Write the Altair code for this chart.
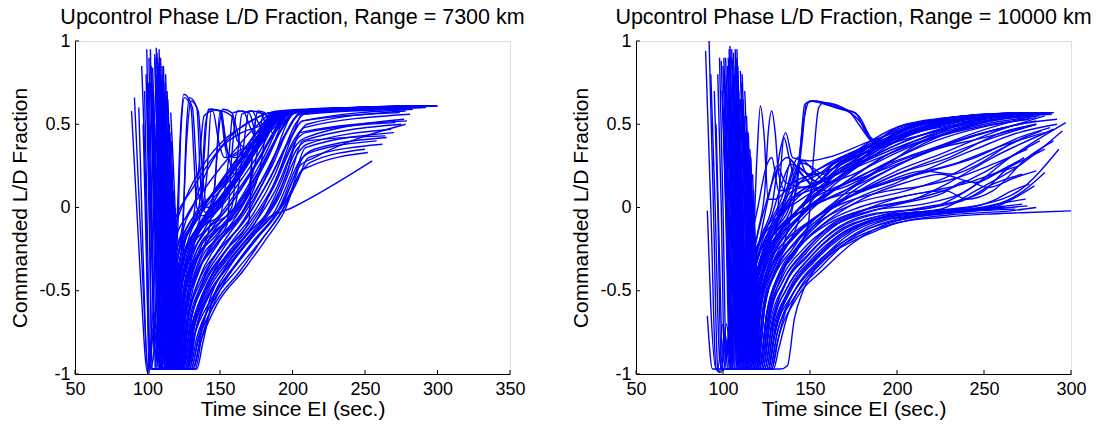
import altair as alt
import pandas as pd

# ---------------- text ----------------
TITLE_LEFT = "Upcontrol Phase L/D Fraction, Range = 7300 km"
TITLE_RIGHT = "Upcontrol Phase L/D Fraction, Range = 10000 km"
X_TITLE = "Time since EI (sec.)"
Y_TITLE = "Commanded L/D Fraction"

# ---------------- ticks ----------------
X_TICKS_LEFT = [50, 100, 150, 200, 250, 300, 350]
X_TICKS_RIGHT = [50, 100, 150, 200, 250, 300]
Y_TICKS = [-1, -0.5, 0, 0.5, 1]

# ---------------- trajectories, Range = 7300 km (time s, L/D fraction) ----------------
RUNS_7300 = [
    [(89, 0.58), (95, -0.4), (100, -0.99), (104, -0.72), (109, -0.97), (113, -0.97), (117, -0.55), (122, -0.25), (130, -0.08), (150, 0.12), (175, 0.4), (190, 0.56), (200, 0.58), (245, 0.6)],
    [(91, 0.66), (96, -0.3), (101, -1.0), (104, -0.62), (110, -0.96), (114, -0.96), (117, -0.5), (120, -0.15), (123, 0.5), (125, 0.68), (131, 0.6), (134, 0.2), (137, 0.0), (139, 0.3), (142, 0.59), (150, 0.58), (154, 0.35), (160, 0.3), (175, 0.4), (190, 0.56), (197, 0.58), (280, 0.61)],
    [(96, 0.85), (99, 0.0), (101, -0.98), (103, -0.78), (108, -0.96), (112, -0.96), (116, -0.6), (121, -0.3), (128, -0.15), (140, 0.0), (160, 0.2), (185, 0.52), (195, 0.57), (270, 0.6)],
    [(99.5, 0.95), (101.5, 0.0), (103, -0.97), (106, -0.97), (110, -0.7), (114, -0.96), (118, -0.96), (122, -0.55), (130, -0.25), (145, -0.05), (165, 0.2), (190, 0.55), (200, 0.58), (300, 0.61)],
    [(102, 0.75), (105, 0.0), (108, -0.9), (111, -0.97), (115, -0.97), (119, -0.5), (124, -0.2), (127, 0.5), (129, 0.66), (134, 0.6), (137, 0.1), (140, -0.03), (150, 0.1), (175, 0.4), (192, 0.57), (285, 0.61)],
    [(103.5, 0.84), (107, 0.0), (110, -0.85), (113, -0.97), (117, -0.97), (121, -0.55), (127, -0.25), (135, -0.1), (141, 0.2), (144, 0.59), (151, 0.58), (155, 0.3), (162, 0.32), (180, 0.45), (195, 0.57), (295, 0.61)],
    [(105, 0.92), (108, 0.1), (112, -0.9), (115, -0.97), (119, -0.97), (123, -0.6), (130, -0.32), (140, -0.12), (155, 0.05), (175, 0.3), (193, 0.56), (200, 0.58), (260, 0.6)],
    [(106, 0.96), (109, 0.2), (113, -0.85), (116, -0.97), (120, -0.97), (124, -0.62), (132, -0.35), (142, -0.15), (147, 0.2), (150, 0.58), (158, 0.55), (162, 0.4), (170, 0.35), (185, 0.5), (196, 0.57), (275, 0.6)],
    [(107, 0.9), (110, 0.1), (114, -0.9), (117, -0.97), (121, -0.97), (125, -0.65), (133, -0.38), (145, -0.15), (160, 0.0), (180, 0.3), (195, 0.55), (202, 0.58), (290, 0.61)],
    [(108, 0.87), (111, 0.2), (115, -0.8), (118, -0.97), (122, -0.97), (126, -0.65), (134, -0.4), (147, -0.2), (155, -0.1), (158, 0.3), (162, 0.58), (170, 0.57), (175, 0.45), (185, 0.5), (197, 0.57), (265, 0.6)],
    [(109, 0.8), (112, 0.0), (116, -0.88), (119, -0.97), (123, -0.97), (127, -0.7), (136, -0.42), (150, -0.2), (165, 0.0), (183, 0.3), (197, 0.56), (204, 0.58), (280, 0.6)],
    [(110.5, 0.78), (113, 0.1), (117, -0.85), (120, -0.97), (124, -0.97), (128, -0.72), (138, -0.45), (152, -0.25), (168, -0.05), (185, 0.25), (200, 0.56), (206, 0.58), (298, 0.61)],
    [(112, 0.65), (115, 0.0), (118, -0.9), (121, -0.97), (125, -0.97), (129, -0.72), (140, -0.45), (155, -0.25), (170, -0.08), (172, 0.3), (176, 0.57), (183, 0.55), (188, 0.5), (195, 0.56), (202, 0.58), (285, 0.61)],
    [(114, 0.6), (117, 0.0), (120, -0.9), (123, -0.97), (127, -0.97), (131, -0.75), (142, -0.48), (158, -0.28), (175, -0.08), (190, 0.2), (203, 0.5), (207, 0.57), (292, 0.6)],
    [(116, 0.57), (119, 0.0), (122, -0.9), (125, -0.97), (129, -0.97), (133, -0.75), (144, -0.5), (160, -0.3), (178, -0.1), (192, 0.15), (205, 0.45), (210, 0.5), (278, 0.58)],
    [(104, 0.7), (107, -0.2), (111, -0.97), (115, -0.97), (119, -0.45), (125, -0.12), (131, 0.0), (140, 0.2), (150, 0.35), (165, 0.45), (180, 0.5), (188, 0.55), (196, 0.58), (255, 0.6)],
    [(100, 0.6), (103, -0.3), (106, -0.97), (110, -0.97), (114, -0.6), (119, -0.3), (127, -0.12), (140, 0.02), (155, 0.2), (175, 0.45), (188, 0.57), (240, 0.6)],
    [(107.5, 0.85), (110, 0.0), (114, -0.97), (118, -0.97), (122, -0.45), (126, -0.2), (131, -0.1), (135, 0.2), (139, 0.55), (145, 0.58), (149, 0.4), (153, 0.3), (165, 0.35), (180, 0.45), (193, 0.57), (270, 0.6)],
    [(111, 0.7), (114, -0.1), (117, -0.97), (121, -0.97), (125, -0.6), (130, -0.3), (138, -0.1), (150, 0.0), (163, 0.2), (180, 0.42), (195, 0.57), (250, 0.59)],
    [(110, 0.5), (113, -0.2), (117, -0.97), (124, -0.97), (129, -0.75), (140, -0.5), (155, -0.3), (170, -0.15), (185, 0.0), (196, 0.2), (205, 0.45), (279, 0.52)],
    [(112, 0.45), (115, -0.3), (119, -0.97), (126, -0.97), (131, -0.75), (142, -0.52), (158, -0.33), (173, -0.17), (188, -0.02), (199, 0.2), (207, 0.4), (275, 0.5)],
    [(113, 0.4), (116, -0.4), (120, -0.97), (127, -0.97), (132, -0.78), (144, -0.55), (160, -0.35), (176, -0.18), (190, -0.03), (201, 0.18), (209, 0.36), (270, 0.45)],
    [(115, 0.35), (118, -0.4), (122, -0.97), (129, -0.97), (134, -0.78), (146, -0.55), (162, -0.37), (178, -0.2), (192, -0.03), (203, 0.15), (211, 0.3), (262, 0.38)],
    [(114, 0.3), (117, -0.5), (121, -0.97), (130, -0.97), (135, -0.8), (147, -0.57), (164, -0.38), (180, -0.18), (193, -0.02), (205, 0.2), (212, 0.27), (250, 0.35)],
    [(116, 0.2), (119, -0.5), (123, -0.97), (131, -0.97), (136, -0.82), (148, -0.58), (166, -0.38), (181, -0.2), (194, -0.03), (206, 0.22), (213, 0.25), (252, 0.33)],
    [(118, 0.1), (121, -0.6), (125, -0.97), (134, -0.97), (138, -0.82), (145, -0.55), (155, -0.38), (170, -0.2), (185, -0.06), (200, 0.0), (255, 0.28)],
    [(117, 0.15), (120, -0.6), (124, -0.97), (132, -0.97), (136, -0.8), (143, -0.55), (153, -0.37), (168, -0.2), (182, -0.07), (192, 0.0), (205, 0.25), (215, 0.3), (278, 0.5)],
    [(106, 0.5), (110, -0.6), (113, -0.97), (118, -0.97), (122, -0.5), (128, -0.2), (136, -0.05), (146, 0.1), (160, 0.25), (178, 0.45), (190, 0.57), (230, 0.59)],
    [(108, 0.55), (112, -0.6), (115, -0.97), (120, -0.97), (124, -0.55), (131, -0.25), (141, -0.08), (155, 0.08), (172, 0.3), (190, 0.55), (199, 0.58), (295, 0.61)],
    [(109, 0.6), (113, -0.6), (116, -0.97), (122, -0.97), (126, -0.6), (134, -0.3), (145, -0.12), (160, 0.05), (178, 0.3), (194, 0.55), (201, 0.58), (300, 0.61)],
    [(110, 0.65), (114, -0.6), (118, -0.97), (124, -0.97), (128, -0.65), (137, -0.35), (150, -0.15), (165, 0.02), (182, 0.28), (198, 0.55), (204, 0.58), (287, 0.61)],
    [(111, 0.55), (115, -0.6), (119, -0.97), (125, -0.97), (130, -0.68), (140, -0.4), (153, -0.2), (168, -0.02), (186, 0.25), (200, 0.52), (206, 0.57), (282, 0.6)],
    [(112, 0.5), (116, -0.6), (120, -0.97), (127, -0.97), (132, -0.7), (143, -0.43), (157, -0.22), (172, -0.05), (188, 0.2), (202, 0.5), (208, 0.56), (276, 0.59)],
    [(103, 0.8), (106, -0.3), (109, -0.97), (113, -0.97), (117, -0.5), (121, -0.22), (124, -0.12), (127, 0.4), (130, 0.64), (135, 0.58), (138, 0.2), (141, 0.0), (155, 0.12), (175, 0.38), (191, 0.56), (260, 0.6)],
    [(105, 0.9), (108, 0.0), (111, -0.97), (116, -0.97), (120, -0.45), (126, -0.18), (133, -0.08), (137, 0.1), (140, 0.5), (143, 0.59), (150, 0.58), (156, 0.3), (160, 0.2), (170, 0.3), (185, 0.5), (195, 0.57), (265, 0.6)],
    [(106.5, 0.93), (109, 0.0), (112, -0.97), (117, -0.97), (121, -0.5), (128, -0.22), (140, -0.1), (150, -0.05), (156, 0.3), (159, 0.57), (166, 0.58), (170, 0.5), (175, 0.42), (185, 0.5), (194, 0.57), (248, 0.59)],
    [(108.5, 0.75), (111, 0.0), (115, -0.97), (119, -0.97), (123, -0.55), (130, -0.25), (142, -0.12), (160, 0.0), (166, 0.35), (170, 0.58), (178, 0.57), (183, 0.48), (190, 0.52), (198, 0.57), (293, 0.61)],
    [(110, 0.72), (113, 0.0), (117, -0.97), (121, -0.97), (125, -0.6), (132, -0.3), (145, -0.15), (163, -0.02), (175, 0.3), (180, 0.56), (186, 0.57), (190, 0.5), (197, 0.56), (203, 0.58), (272, 0.6)],
    [(101, 0.9), (103, 0.0), (106, -0.97), (109, -0.97), (113, -0.4), (118, -0.15), (126, 0.05), (138, 0.25), (152, 0.4), (168, 0.5), (185, 0.57), (220, 0.59)],
    [(104, 0.6), (107, -0.4), (110, -0.97), (114, -0.97), (118, -0.6), (124, -0.32), (133, -0.15), (148, 0.0), (165, 0.2), (185, 0.47), (196, 0.57), (285, 0.61)],
    [(105.5, 0.75), (108.5, -0.2), (112, -0.97), (116, -0.97), (120, -0.62), (127, -0.35), (137, -0.18), (152, -0.02), (170, 0.2), (188, 0.45), (199, 0.57), (262, 0.6)],
    [(107, 0.7), (110, -0.2), (113, -0.97), (118, -0.97), (122, -0.65), (129, -0.4), (140, -0.22), (156, -0.06), (174, 0.18), (191, 0.45), (201, 0.57), (297, 0.61)],
    [(109.5, 0.7), (112, -0.2), (116, -0.97), (121, -0.97), (125, -0.68), (133, -0.42), (145, -0.25), (162, -0.08), (180, 0.18), (196, 0.45), (205, 0.57), (268, 0.6)],
    [(111.5, 0.62), (114, -0.2), (118, -0.97), (123, -0.97), (127, -0.7), (135, -0.45), (148, -0.27), (165, -0.1), (183, 0.15), (199, 0.42), (207, 0.52), (283, 0.59)],
    [(113, 0.55), (116, -0.3), (120, -0.97), (125, -0.97), (129, -0.72), (138, -0.47), (151, -0.29), (168, -0.12), (186, 0.12), (202, 0.42), (208, 0.48), (281, 0.56)],
    [(114.5, 0.5), (117, -0.3), (121, -0.97), (126, -0.97), (130, -0.74), (139, -0.5), (153, -0.31), (170, -0.14), (188, 0.1), (203, 0.38), (209, 0.42), (277, 0.53)],
    [(115.5, 0.45), (118, -0.35), (122, -0.97), (128, -0.97), (133, -0.75), (143, -0.52), (158, -0.33), (174, -0.15), (190, 0.05), (204, 0.33), (210, 0.38), (268, 0.47)],
    [(116.5, 0.4), (119, -0.4), (123, -0.97), (130, -0.97), (135, -0.78), (145, -0.55), (160, -0.36), (177, -0.17), (191, 0.0), (205, 0.28), (212, 0.33), (258, 0.4)],
    [(102.5, 0.85), (105, -0.1), (108, -0.97), (112, -0.97), (116, -0.55), (121, -0.28), (129, -0.12), (142, 0.05), (158, 0.25), (176, 0.45), (189, 0.57), (275, 0.61)],
    [(98, 0.7), (100, -0.2), (102, -0.97), (105, -0.97), (108, -0.6), (111, -0.9), (115, -0.97), (119, -0.6), (125, -0.3), (134, -0.12), (150, 0.05), (170, 0.3), (187, 0.55), (197, 0.58), (290, 0.61)],
    [(97, 0.5), (99.5, -0.4), (102, -0.97), (104, -0.9), (106, -0.75), (109, -0.95), (113, -0.97), (117, -0.62), (123, -0.35), (132, -0.18), (146, -0.02), (165, 0.22), (185, 0.5), (196, 0.58), (255, 0.6)],
    [(104.5, 0.55), (107.5, -0.4), (111, -0.97), (115, -0.97), (119, -0.4), (121, -0.1), (123, 0.45), (125.5, 0.66), (130, 0.6), (132, 0.3), (134, 0.0), (138, -0.05), (150, 0.1), (170, 0.35), (189, 0.56), (250, 0.6)],
    [(109, 0.9), (111.5, 0.0), (115, -0.97), (119, -0.97), (123, -0.5), (130, -0.2), (140, -0.05), (146, 0.1), (149, 0.45), (152, 0.59), (158, 0.57), (162, 0.45), (166, 0.3), (175, 0.35), (188, 0.5), (197, 0.57), (280, 0.6)],
    [(111, 0.85), (113.5, 0.0), (117, -0.97), (121, -0.97), (125, -0.55), (133, -0.28), (146, -0.12), (158, 0.0), (162, 0.3), (165, 0.56), (172, 0.58), (177, 0.5), (182, 0.45), (190, 0.5), (199, 0.57), (288, 0.61)],
    [(100.5, 0.75), (102.5, 0.0), (105, -0.97), (108, -0.97), (111, -0.5), (115, -0.2), (120, -0.05), (130, 0.1), (145, 0.3), (160, 0.45), (178, 0.55), (190, 0.58), (235, 0.6)],
    [(113.5, 0.7), (116, 0.0), (119, -0.97), (124, -0.97), (128, -0.6), (136, -0.33), (150, -0.17), (167, 0.0), (178, 0.25), (184, 0.55), (190, 0.57), (194, 0.52), (200, 0.56), (206, 0.58), (299, 0.61)],
    [(112.5, 0.8), (115, 0.0), (118, -0.97), (123, -0.97), (127, -0.6), (134, -0.32), (147, -0.17), (163, 0.0), (170, 0.1), (173, 0.4), (176, 0.58), (181, 0.57), (186, 0.45), (193, 0.5), (200, 0.57), (273, 0.6)],
    [(94, 0.6), (97, -0.3), (100, -0.97), (102, -0.9), (105, -0.7), (108, -0.9), (111, -0.97), (115, -0.97), (119, -0.5), (126, -0.2), (136, -0.02), (155, 0.18), (178, 0.45), (191, 0.57), (258, 0.6)],
    [(119, 0.0), (122, -0.7), (125, -0.97), (133, -0.97), (137, -0.8), (146, -0.57), (158, -0.38), (173, -0.2), (188, -0.05), (199, 0.1), (207, 0.3), (215, 0.35), (265, 0.42)],
    [(103, 0.6), (106, -0.3), (109.5, -0.97), (114, -0.97), (118, -0.58), (124, -0.3), (133, -0.14), (146, 0.0), (162, 0.18), (180, 0.4), (193, 0.56), (240, 0.59)],
    [(106, 0.8), (109, -0.1), (112.5, -0.97), (117, -0.97), (121, -0.6), (128, -0.33), (138, -0.17), (154, -0.02), (172, 0.22), (189, 0.48), (198, 0.57), (278, 0.6)],
    [(108, 0.95), (110.5, 0.0), (114, -0.97), (119, -0.97), (123, -0.62), (130, -0.37), (142, -0.2), (158, -0.05), (176, 0.2), (192, 0.46), (202, 0.57), (266, 0.6)],
    [(110, 0.85), (112.5, 0.0), (116, -0.97), (122, -0.97), (126, -0.66), (134, -0.4), (147, -0.22), (164, -0.05), (181, 0.2), (197, 0.47), (205, 0.56), (289, 0.6)],
    [(112, 0.75), (114.5, 0.0), (118, -0.97), (124, -0.97), (128, -0.68), (137, -0.44), (150, -0.25), (167, -0.08), (184, 0.17), (200, 0.44), (207, 0.52), (274, 0.57)],
    [(114, 0.65), (116.5, 0.0), (120, -0.97), (126, -0.97), (131, -0.72), (140, -0.48), (154, -0.29), (170, -0.12), (187, 0.12), (202, 0.4), (209, 0.45), (271, 0.51)],
    [(107, 0.6), (110, -0.4), (113, -0.97), (118, -0.97), (122, -0.55), (128, -0.28), (136, -0.12), (149, 0.03), (166, 0.22), (184, 0.48), (195, 0.57), (292, 0.61)],
    [(102, 0.95), (104, 0.0), (107, -0.97), (110, -0.97), (114, -0.45), (119, -0.2), (127, -0.05), (140, 0.12), (156, 0.3), (174, 0.48), (187, 0.57), (268, 0.6)],
    [(115, 0.5), (118, -0.3), (121.5, -0.97), (128, -0.97), (132, -0.74), (142, -0.5), (156, -0.32), (172, -0.15), (189, 0.05), (203, 0.35), (210, 0.4), (264, 0.43)],
    [(99, 0.8), (101, 0.0), (103.5, -0.97), (106, -0.97), (109, -0.5), (112, -0.85), (116, -0.97), (120, -0.55), (126, -0.28), (136, -0.1), (152, 0.08), (172, 0.33), (188, 0.56), (199, 0.58), (282, 0.61)],
]

# ---------------- trajectories, Range = 10000 km (time s, L/D fraction) ----------------
RUNS_10000 = [
    [(90, 0.94), (93, 0.0), (96, -0.97), (98, -0.99), (101, -0.75), (104, -0.97), (108, -0.97), (112, -0.6), (118, -0.3), (128, -0.1), (145, 0.05), (170, 0.2), (200, 0.42), (230, 0.52), (260, 0.56), (285, 0.57)],
    [(92, 1.0), (94.5, 0.0), (97, -0.97), (99, -0.99), (102, -0.7), (105, -0.97), (109, -0.97), (113, -0.55), (117, -0.3), (119.5, 0.3), (121.5, 0.61), (123.5, 0.45), (126, 0.05), (130, 0.05), (140, 0.15), (160, 0.22), (185, 0.35), (210, 0.5), (250, 0.56), (280, 0.57)],
    [(91, -0.02), (93, -0.6), (96, -0.97), (99, -0.97), (102, -0.8), (105, -0.97), (110, -0.97), (114, -0.6), (121, -0.35), (132, -0.12), (150, 0.0), (180, 0.15), (210, 0.3), (240, 0.42), (270, 0.5)],
    [(91, -0.65), (94, -0.97), (97, -0.97), (100, -0.7), (103, -0.97), (107, -0.97), (111, -0.55), (117, -0.3), (125, -0.12), (135, 0.1), (139, 0.28), (145, 0.2), (160, 0.1), (185, 0.2), (215, 0.4), (255, 0.55), (287, 0.57)],
    [(93, 0.8), (95.5, 0.0), (98, -0.9), (100, -0.98), (103, -0.8), (106, -0.97), (110, -0.97), (114, -0.5), (120, -0.15), (124, 0.1), (126, 0.45), (128, 0.58), (130, 0.45), (132, 0.2), (136, 0.1), (143, 0.25), (146, 0.5), (150, 0.64), (155, 0.63), (168, 0.59), (176, 0.57), (182, 0.45), (190, 0.38), (210, 0.47), (245, 0.55), (283, 0.57)],
    [(99, 0.88), (101.5, 0.0), (104, -0.97), (110, -0.97), (114, -0.6), (120, -0.3), (130, -0.15), (145, 0.0), (170, 0.2), (200, 0.45), (235, 0.54), (282, 0.57)],
    [(101, 0.8), (103.5, 0.0), (106, -0.97), (112, -0.97), (116, -0.6), (122, -0.35), (132, -0.18), (148, -0.02), (170, 0.1), (200, 0.3), (230, 0.45), (270, 0.55)],
    [(104, 0.97), (106.5, 0.0), (109, -0.97), (115, -0.97), (119, -0.55), (125, -0.3), (130, -0.2), (133, 0.2), (135, 0.42), (138, 0.3), (142, 0.15), (155, 0.2), (165, 0.28), (190, 0.38), (220, 0.48), (255, 0.55), (289, 0.57)],
    [(105, 0.9), (107.5, 0.0), (110, -0.97), (116, -0.97), (120, -0.6), (126, -0.35), (136, -0.2), (150, -0.08), (170, 0.05), (200, 0.2), (225, 0.3), (250, 0.4), (280, 0.5)],
    [(106, 0.93), (108.5, 0.0), (111, -0.97), (117, -0.97), (121, -0.62), (127, -0.38), (135, -0.22), (140, 0.0), (144, 0.3), (147, 0.62), (152, 0.64), (170, 0.59), (178, 0.55), (185, 0.42), (192, 0.38), (215, 0.47), (250, 0.55), (286, 0.57)],
    [(108, 0.95), (110.5, 0.0), (113, -0.97), (119, -0.97), (123, -0.62), (130, -0.4), (140, -0.25), (150, -0.1), (160, 0.0), (180, 0.1), (200, 0.2), (230, 0.3), (260, 0.45), (280, 0.5)],
    [(110, 0.82), (112.5, 0.0), (115, -0.97), (121, -0.97), (125, -0.65), (132, -0.42), (143, -0.25), (149, -0.1), (152, 0.3), (155, 0.6), (158, 0.63), (172, 0.58), (180, 0.5), (187, 0.38), (195, 0.4), (225, 0.5), (265, 0.56), (290, 0.57)],
    [(105.5, 0.88), (108, 0.0), (110.5, -0.97), (116, -0.97), (120, -0.58), (126, -0.3), (134, -0.12), (142, 0.1), (145.5, 0.4), (148, 0.63), (152, 0.64), (165, 0.6), (173, 0.57), (178, 0.5), (185, 0.4), (190, 0.36), (210, 0.45), (250, 0.55), (280, 0.57)],
    [(102, 0.75), (104.5, 0.0), (107, -0.97), (113, -0.97), (117, -0.55), (123, -0.28), (135, -0.1), (150, 0.05), (175, 0.25), (205, 0.48), (240, 0.55), (275, 0.57)],
    [(107, 0.85), (109.5, 0.0), (112, -0.97), (118, -0.97), (122, -0.55), (128, -0.3), (137, -0.15), (148, 0.0), (165, 0.2), (180, 0.3), (200, 0.44), (230, 0.53), (270, 0.57)],
    [(103, 0.9), (105.5, 0.0), (108, -0.97), (114, -0.97), (118, -0.5), (124, -0.25), (130, -0.1), (137, 0.1), (142, 0.25), (150, 0.2), (160, 0.22), (175, 0.3), (200, 0.47), (240, 0.55), (278, 0.57)],
    [(109, 0.7), (111.5, 0.0), (114, -0.97), (120, -0.97), (124, -0.6), (131, -0.35), (141, -0.15), (148, 0.05), (155, 0.15), (165, 0.25), (175, 0.3), (200, 0.42), (235, 0.5), (262, 0.55)],
    [(100, 0.6), (102.5, -0.3), (105, -0.97), (111, -0.97), (115, -0.5), (121, -0.2), (128, 0.0), (133, 0.35), (136, 0.45), (140, 0.3), (150, 0.28), (160, 0.3), (185, 0.4), (215, 0.5), (260, 0.56), (284, 0.57)],
    [(111, 0.6), (113.5, 0.0), (116, -0.97), (122, -0.97), (126, -0.68), (134, -0.45), (146, -0.28), (160, -0.12), (180, -0.02), (210, 0.05), (230, 0.15), (255, 0.3), (290, 0.47)],
    [(112, 0.5), (114.5, -0.2), (117, -0.97), (123, -0.97), (127, -0.7), (135, -0.47), (148, -0.3), (162, -0.15), (185, -0.04), (220, 0.0), (240, 0.1), (265, 0.3), (297, 0.51)],
    [(113, 0.45), (115.5, -0.2), (118, -0.97), (124, -0.97), (128, -0.72), (137, -0.48), (150, -0.3), (165, -0.16), (190, -0.05), (225, -0.01), (245, 0.1), (270, 0.25), (295, 0.46)],
    [(110, 0.3), (112.5, -0.4), (115, -0.97), (121, -0.97), (125, -0.65), (133, -0.4), (145, -0.22), (160, -0.08), (180, 0.05), (205, 0.15), (225, 0.2), (245, 0.15), (260, 0.22), (285, 0.35)],
    [(114, 0.4), (116.5, -0.3), (119, -0.97), (125, -0.97), (129, -0.73), (138, -0.5), (152, -0.32), (168, -0.17), (195, -0.05), (230, -0.01), (250, 0.02), (270, 0.1), (293, 0.35)],
    [(115, 0.2), (117.5, -0.4), (120, -0.97), (126, -0.97), (130, -0.75), (140, -0.52), (154, -0.34), (170, -0.18), (198, -0.06), (235, -0.02), (255, 0.01), (270, 0.08), (285, 0.21)],
    [(116, 0.1), (118.5, -0.5), (121, -0.97), (127, -0.97), (131, -0.76), (141, -0.54), (156, -0.36), (172, -0.2), (200, -0.07), (240, -0.02), (258, 0.01), (268, 0.06), (279, 0.13)],
    [(117, 0.0), (119, -0.5), (122, -0.97), (128, -0.97), (132, -0.78), (142, -0.55), (158, -0.37), (175, -0.21), (200, -0.08), (245, -0.02), (275, 0.01)],
    [(113, 0.3), (115.5, -0.4), (118, -0.97), (124, -0.97), (128, -0.7), (136, -0.45), (148, -0.27), (163, -0.12), (185, 0.0), (210, 0.08), (228, 0.1), (240, 0.05), (255, 0.1), (275, 0.3), (290, 0.4)],
    [(112, 0.55), (114.5, 0.0), (117, -0.97), (123, -0.97), (127, -0.65), (134, -0.4), (145, -0.2), (158, -0.05), (175, 0.1), (200, 0.25), (220, 0.35), (245, 0.45), (278, 0.55)],
    [(118, -0.2), (121, -0.8), (124, -0.97), (129, -0.97), (133, -0.97), (137, -0.95), (141, -0.67), (146, -0.5), (153, -0.37), (163, -0.27), (175, -0.2), (188, -0.14), (201, -0.09), (225, -0.06), (251, -0.04), (275, -0.03), (300, -0.02)],
    [(115, 0.3), (117.5, -0.3), (120, -0.97), (126, -0.97), (129, -0.8), (134, -0.6), (143, -0.42), (155, -0.28), (168, -0.16), (180, -0.1), (200, -0.05), (230, -0.02), (262, 0.0)],
    [(104, 0.7), (106.5, 0.0), (109, -0.97), (114, -0.97), (118, -0.5), (123, -0.25), (130, -0.05), (140, 0.1), (155, 0.15), (165, 0.25), (185, 0.37), (200, 0.48), (225, 0.53), (250, 0.56), (288, 0.57)],
    [(106, 0.8), (108.5, 0.0), (111, -0.97), (116, -0.97), (120, -0.55), (127, -0.3), (136, -0.12), (148, 0.05), (165, 0.2), (190, 0.38), (210, 0.47), (240, 0.53), (275, 0.56)],
    [(108, 0.6), (110.5, -0.2), (113, -0.97), (118, -0.97), (122, -0.55), (129, -0.32), (139, -0.15), (152, 0.0), (170, 0.15), (195, 0.32), (220, 0.42), (250, 0.5), (282, 0.55)],
    [(109, 0.5), (111.5, -0.3), (114, -0.97), (119, -0.97), (123, -0.6), (130, -0.35), (141, -0.18), (155, -0.05), (172, 0.1), (195, 0.25), (222, 0.35), (250, 0.42), (280, 0.5)],
    [(107, 0.65), (109.5, -0.1), (112, -0.97), (117, -0.97), (121, -0.5), (127, -0.22), (134, 0.0), (139, 0.2), (143, 0.3), (148, 0.2), (156, 0.15), (162, 0.25), (175, 0.32), (195, 0.42), (215, 0.5), (245, 0.55), (280, 0.57)],
    [(100, 0.85), (102.5, 0.0), (105, -0.97), (110, -0.97), (114, -0.45), (119, -0.2), (124, 0.0), (130, 0.2), (137, 0.3), (144, 0.22), (155, 0.1), (163, 0.2), (180, 0.3), (205, 0.45), (235, 0.53), (270, 0.56)],
    [(95, 0.7), (97, 0.0), (99, -0.97), (101, -0.97), (104, -0.7), (107, -0.97), (111, -0.97), (115, -0.55), (121, -0.28), (130, -0.1), (145, 0.08), (165, 0.2), (190, 0.35), (215, 0.48), (250, 0.55), (287, 0.57)],
    [(97, 0.8), (99, 0.0), (101, -0.97), (104, -0.97), (107, -0.6), (110, -0.97), (114, -0.97), (118, -0.55), (124, -0.3), (133, -0.14), (148, 0.0), (170, 0.15), (195, 0.32), (225, 0.46), (260, 0.55), (284, 0.57)],
    [(102.5, 0.85), (105, 0.0), (107.5, -0.97), (113, -0.97), (117, -0.52), (123, -0.26), (131, -0.08), (142, 0.12), (158, 0.25), (178, 0.35), (200, 0.46), (230, 0.53), (265, 0.56), (290, 0.57)],
    [(104.5, 0.75), (107, 0.0), (109.5, -0.97), (115, -0.97), (119, -0.58), (125, -0.33), (134, -0.17), (146, -0.03), (163, 0.1), (185, 0.22), (210, 0.32), (240, 0.42), (270, 0.5), (292, 0.53)],
    [(106.5, 0.8), (109, 0.0), (111.5, -0.97), (117, -0.97), (121, -0.6), (128, -0.35), (138, -0.2), (152, -0.07), (170, 0.05), (195, 0.15), (220, 0.22), (245, 0.3), (270, 0.42), (288, 0.48)],
    [(108.5, 0.85), (111, 0.0), (113.5, -0.97), (119, -0.97), (123, -0.62), (130, -0.38), (141, -0.22), (156, -0.08), (175, 0.02), (205, 0.1), (228, 0.18), (250, 0.3), (275, 0.43)],
    [(110.5, 0.75), (113, 0.0), (115.5, -0.97), (121, -0.97), (125, -0.64), (132, -0.4), (144, -0.23), (160, -0.1), (182, -0.01), (210, 0.05), (232, 0.12), (248, 0.2), (268, 0.32), (282, 0.4)],
    [(111.5, 0.65), (114, 0.0), (116.5, -0.97), (122, -0.97), (126, -0.66), (134, -0.42), (146, -0.25), (162, -0.11), (185, -0.02), (215, 0.02), (236, 0.08), (252, 0.18), (270, 0.28)],
    [(113.5, 0.55), (116, -0.1), (118.5, -0.97), (124, -0.97), (128, -0.7), (136, -0.46), (149, -0.28), (164, -0.14), (188, -0.04), (220, 0.0), (240, 0.05), (255, 0.14), (272, 0.2)],
    [(101.5, 0.9), (104, 0.0), (106.5, -0.97), (112, -0.97), (116, -0.5), (122, -0.22), (128, -0.05), (134, 0.15), (139, 0.26), (146, 0.22), (155, 0.15), (162, 0.2), (172, 0.3), (185, 0.4), (205, 0.5), (240, 0.55), (285, 0.57)],
    [(103.5, 0.95), (106, 0.0), (108.5, -0.97), (114, -0.97), (118, -0.52), (124, -0.27), (132, -0.08), (138, 0.1), (144, 0.27), (150, 0.25), (158, 0.2), (168, 0.28), (182, 0.33), (200, 0.42), (225, 0.5), (260, 0.56), (288, 0.57)],
    [(99.5, 0.7), (102, 0.0), (104.5, -0.97), (108, -0.97), (111, -0.55), (116, -0.2), (120, 0.0), (125, 0.25), (128, 0.3), (132, 0.1), (140, 0.12), (150, 0.2), (165, 0.28), (190, 0.4), (220, 0.52), (260, 0.56), (283, 0.57)],
    [(114.5, 0.45), (117, -0.2), (119.5, -0.97), (125, -0.97), (129, -0.7), (137, -0.48), (150, -0.3), (165, -0.15), (190, -0.05), (215, 0.0), (235, 0.04), (250, 0.1), (262, 0.22), (273, 0.3)],
    [(116, 0.3), (118, -0.4), (120.5, -0.97), (126, -0.97), (130, -0.74), (139, -0.5), (152, -0.33), (168, -0.18), (193, -0.06), (228, -0.02), (248, 0.0), (262, 0.03), (274, 0.05)],
    [(117.5, 0.1), (119.5, -0.5), (122, -0.97), (129, -0.97), (132, -0.85), (137, -0.65), (145, -0.47), (155, -0.35), (168, -0.23), (185, -0.14), (205, -0.08), (235, -0.04), (265, -0.02), (280, 0.0)],
    [(116.5, 0.05), (119, -0.6), (121.5, -0.97), (128, -0.97), (131, -0.82), (136, -0.62), (144, -0.45), (154, -0.33), (167, -0.22), (183, -0.13), (203, -0.07), (233, -0.03), (268, -0.01)],
    [(109.5, 0.6), (112, -0.2), (114.5, -0.97), (120, -0.97), (124, -0.6), (131, -0.37), (142, -0.2), (156, -0.06), (175, 0.08), (200, 0.22), (225, 0.32), (255, 0.45), (285, 0.55)],
    [(107.5, 0.9), (110, 0.0), (112.5, -0.97), (118, -0.97), (122, -0.58), (128, -0.32), (137, -0.15), (150, 0.0), (162, 0.12), (178, 0.25), (200, 0.4), (230, 0.5), (265, 0.55), (288, 0.57)],
    [(96, 0.5), (98, -0.3), (100, -0.97), (103, -0.97), (106, -0.55), (109, -0.97), (113, -0.97), (117, -0.45), (122, -0.15), (127, 0.1), (131, 0.25), (136, 0.15), (148, 0.12), (170, 0.25), (200, 0.45), (240, 0.55), (286, 0.57)],
    [(105, 0.6), (107.5, -0.2), (110, -0.97), (115, -0.97), (119, -0.55), (126, -0.3), (135, -0.12), (147, 0.03), (162, 0.15), (185, 0.3), (210, 0.42), (240, 0.5), (270, 0.55)],
    [(98, 0.9), (100, 0.0), (102, -0.97), (105, -0.97), (108, -0.65), (111, -0.97), (115, -0.97), (119, -0.5), (125, -0.22), (133, -0.05), (145, 0.1), (160, 0.18), (180, 0.28), (205, 0.4), (235, 0.5), (265, 0.55), (283, 0.56)],
    [(100.5, 0.9), (103, 0.0), (105.5, -0.97), (111, -0.97), (115, -0.55), (121, -0.27), (129, -0.1), (140, 0.05), (155, 0.12), (175, 0.2), (200, 0.33), (225, 0.43), (255, 0.5), (280, 0.54)],
    [(103, 0.65), (105.5, -0.2), (108, -0.97), (113, -0.97), (117, -0.58), (123, -0.32), (132, -0.15), (145, -0.02), (160, 0.05), (185, 0.12), (210, 0.2), (235, 0.27), (260, 0.37), (285, 0.45)],
    [(105, 0.95), (107.5, 0.0), (110, -0.97), (115, -0.97), (119, -0.55), (125, -0.3), (133, -0.14), (144, 0.0), (160, 0.1), (180, 0.18), (205, 0.28), (230, 0.38), (258, 0.47), (280, 0.52)],
    [(106, 0.7), (108.5, -0.2), (111, -0.97), (117, -0.97), (121, -0.6), (128, -0.36), (138, -0.2), (152, -0.07), (170, 0.03), (195, 0.1), (215, 0.13), (235, 0.18), (255, 0.26), (275, 0.35)],
    [(108, 0.75), (110.5, 0.0), (113, -0.97), (118, -0.97), (122, -0.6), (129, -0.36), (139, -0.2), (153, -0.06), (172, 0.06), (195, 0.16), (215, 0.22), (232, 0.2), (245, 0.25), (265, 0.38), (283, 0.46)],
    [(110, 0.65), (112.5, -0.1), (115, -0.97), (121, -0.97), (125, -0.65), (132, -0.42), (143, -0.25), (158, -0.1), (178, 0.0), (200, 0.06), (220, 0.1), (238, 0.14), (255, 0.2), (270, 0.25)],
    [(111, 0.8), (113.5, 0.0), (116, -0.97), (122, -0.97), (126, -0.64), (133, -0.4), (144, -0.22), (158, -0.07), (176, 0.05), (200, 0.15), (222, 0.25), (245, 0.35), (270, 0.45), (292, 0.5)],
    [(112.5, 0.7), (115, 0.0), (117.5, -0.97), (123, -0.97), (127, -0.66), (135, -0.43), (147, -0.26), (162, -0.12), (183, -0.03), (205, 0.03), (225, 0.08), (240, 0.16), (252, 0.12), (268, 0.18), (280, 0.22)],
    [(101, 0.55), (103.5, -0.3), (106, -0.97), (111, -0.97), (115, -0.5), (121, -0.22), (130, -0.05), (142, 0.08), (158, 0.16), (180, 0.27), (205, 0.38), (232, 0.47), (262, 0.54), (289, 0.56)],
    [(103, 0.8), (105.5, 0.0), (108, -0.97), (113, -0.97), (117, -0.55), (123, -0.3), (131, -0.12), (138, 0.0), (142, 0.2), (146, 0.28), (152, 0.22), (160, 0.15), (172, 0.22), (190, 0.3), (215, 0.4), (245, 0.5), (275, 0.55)],
    [(104, 0.85), (106.5, 0.0), (109, -0.97), (114, -0.97), (118, -0.55), (124, -0.28), (132, -0.1), (140, 0.05), (152, 0.15), (165, 0.27), (175, 0.3), (195, 0.38), (220, 0.45), (250, 0.52), (278, 0.55)],
    [(115.5, 0.35), (118, -0.3), (120.5, -0.97), (126, -0.97), (130, -0.72), (138, -0.49), (151, -0.31), (166, -0.17), (190, -0.06), (220, -0.02), (242, 0.0), (255, 0.04), (266, 0.1), (276, 0.14)],
    [(117, 0.2), (119, -0.4), (121.5, -0.97), (127, -0.97), (131, -0.76), (140, -0.52), (154, -0.35), (170, -0.2), (196, -0.07), (230, -0.03), (255, 0.0), (272, 0.02)],
    [(107, 0.95), (109.5, 0.0), (112, -0.97), (117, -0.97), (121, -0.58), (127, -0.32), (136, -0.16), (147, -0.03), (160, 0.08), (178, 0.18), (200, 0.3), (222, 0.4), (248, 0.48), (276, 0.53)],
]

FONT = "Liberation Sans"
LINE_COLOR = "#0000ff"


def frame(runs):
    rows = []
    for i, run in enumerate(runs):
        for k, (t, v) in enumerate(run):
            rows.append({"run": i, "k": k, "t": t, "v": v})
    return pd.DataFrame(rows)


def panel(runs, title, xmax, xticks):
    xs = alt.Scale(domain=[50, xmax], nice=False, zero=False)
    ys = alt.Scale(domain=[-1, 1], nice=False, zero=False)
    xaxis = alt.Axis(
        values=xticks, ticks=False, labelPadding=6, labelFontSize=18, labelFont=FONT,
        labelColor="black", labelFlush=False, labelOverlap=False, domainColor="black",
        grid=False, title=X_TITLE, titleFont=FONT, titleFontSize=21, titleFontWeight="normal",
        titleColor="black", titlePadding=0, labelExpr="'' + datum.value",
    )
    yaxis = alt.Axis(
        values=Y_TICKS, ticks=False, labelPadding=5, labelFontSize=18, labelFont=FONT,
        labelColor="black", labelFlush=False, labelOverlap=False, domainColor="black",
        grid=False, title=Y_TITLE, titleFont=FONT, titleFontSize=21, titleFontWeight="normal",
        titleColor="black", titlePadding=8, labelExpr="'' + datum.value",
    )
    lines = alt.Chart(frame(runs)).mark_line(
        color=LINE_COLOR, strokeWidth=1.4, interpolate="monotone", clip=True
    ).encode(
        x=alt.X("t:Q", scale=xs, axis=xaxis),
        y=alt.Y("v:Q", scale=ys, axis=yaxis),
        detail="run:N",
        order="k:Q",
    )
    xt = alt.Chart(pd.DataFrame({"t": xticks})).mark_rule(color="black", strokeWidth=1).encode(
        x=alt.X("t:Q", scale=xs, axis=xaxis), y=alt.value(333), y2=alt.value(329)
    )
    yt = alt.Chart(pd.DataFrame({"v": Y_TICKS})).mark_rule(color="black", strokeWidth=1).encode(
        y=alt.Y("v:Q", scale=ys, axis=yaxis), x=alt.value(0), x2=alt.value(4)
    )
    return alt.layer(lines, xt, yt).properties(
        width=435,
        height=333,
        title=alt.Title(
            title, font=FONT, fontSize=21.5, fontWeight="normal", color="black",
            anchor="middle", frame="group", offset=4,
        ),
    )


left = panel(RUNS_7300, TITLE_LEFT, 350, X_TICKS_LEFT)
right = panel(RUNS_10000, TITLE_RIGHT, 300, X_TICKS_RIGHT)

chart = alt.hconcat(left, right, spacing=126, bounds="flush").properties(
    padding={"left": 9, "top": 6, "right": 0, "bottom": 0}
).configure_view(stroke=None).configure(background="white")

chart.save("out.html", embed_options={"renderer": "svg", "actions": False})
